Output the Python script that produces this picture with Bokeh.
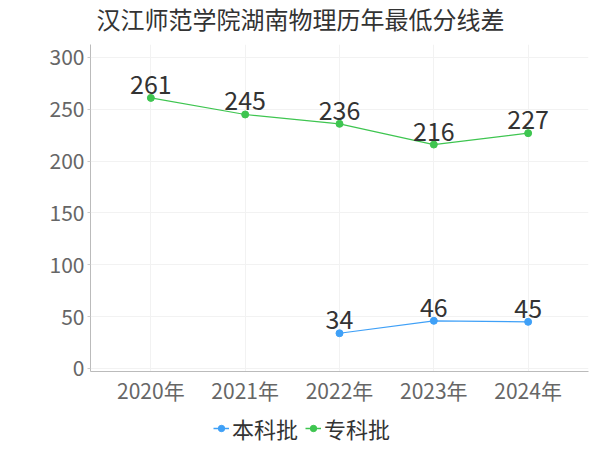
from bokeh.plotting import figure
from bokeh.layouts import column
from bokeh.models import FactorRange, Range1d, ColumnDataSource, Legend, LegendItem, FixedTicker, Label
from bokeh.core.properties import value
from bokeh.embed import file_html
from bokeh.resources import INLINE

title = "汉江师范学院湖南物理历年最低分线差"
years = ["2020年", "2021年", "2022年", "2023年", "2024年"]
ben_years = ["2022年", "2023年", "2024年"]
ben_vals = [34, 46, 45]
zhuan_years = ["2020年", "2021年", "2022年", "2023年", "2024年"]
zhuan_vals = [261, 245, 236, 216, 227]
y_ticks = [0, 50, 100, 150, 200, 250, 300]
series_names = ["本科批", "专科批"]

FONT = "Noto Sans CJK SC"
BLUE = "#3fa0f7"
GREEN = "#3ec550"

W = 592

# header strip holding the title
hd = figure(width=W, height=40, output_backend="svg", toolbar_location=None, title=None,
            min_border_left=90, min_border_right=4, min_border_top=0, min_border_bottom=0,
            x_range=Range1d(0, 498), y_range=Range1d(0, 40))
hd.axis.visible = False
hd.grid.visible = False
hd.outline_line_color = None
hd.add_layout(Label(x=6, y=22, text=title, text_font=FONT, text_font_size="24px",
                    text_color="#333333", text_baseline="middle", text_align="left"))

p = figure(width=W, height=367, title=None,
           x_range=FactorRange(factors=years, range_padding=0.14, range_padding_units="absolute"),
           y_range=Range1d(-2.9, 312.5),
           output_backend="svg", toolbar_location=None,
           min_border_left=90, min_border_right=4, min_border_top=4, min_border_bottom=35)
p.outline_line_color = None
p.background_fill_color = "white"

for g in (p.xgrid, p.ygrid):
    g.grid_line_color = "#f2f2f2"
    g.grid_line_width = 1
p.yaxis.ticker = FixedTicker(ticks=y_ticks)

for ax in (p.xaxis, p.yaxis):
    ax.axis_line_color = "#bbbbbb"
    ax.major_label_text_font = FONT
    ax.major_label_text_color = "#666666"
    ax.major_label_text_font_size = "21px"
    ax.minor_tick_line_color = None
p.yaxis.major_tick_line_color = "#cccccc"
p.yaxis.major_tick_out = 3
p.yaxis.major_tick_in = 0
p.yaxis.major_label_standoff = 3
p.xaxis.major_tick_line_color = None
p.xaxis.major_label_standoff = -3

ben = ColumnDataSource(dict(x=ben_years, y=ben_vals, t=[str(v) for v in ben_vals]))
zhuan = ColumnDataSource(dict(x=zhuan_years, y=zhuan_vals, t=[str(v) for v in zhuan_vals]))

p.line("x", "y", source=ben, line_color=BLUE, line_width=1.2)
p.scatter("x", "y", source=ben, size=7, fill_color=BLUE, line_color=BLUE)
p.line("x", "y", source=zhuan, line_color=GREEN, line_width=1.2)
p.scatter("x", "y", source=zhuan, size=7, fill_color=GREEN, line_color=GREEN)

for src in (ben, zhuan):
    p.text("x", "y", text="t", source=src, text_font=value(FONT), text_font_size="25px",
           text_color="#333333", text_align="center", text_baseline="bottom", y_offset=-4)

# legend strip below the chart (its renderers reuse the series, out of its view)
lg = figure(width=W, height=39, output_backend="svg", toolbar_location=None, title=None,
            min_border_left=90, min_border_right=4, min_border_top=0, min_border_bottom=0,
            x_range=p.x_range, y_range=Range1d(1000, 1001))
lg.axis.visible = False
lg.grid.visible = False
lg.outline_line_color = None
items = []
for name, src, col in zip(series_names, [ben, zhuan], [BLUE, GREEN]):
    r1 = lg.line("x", "y", source=src, line_color=col, line_width=1.5)
    r2 = lg.scatter("x", "y", source=src, size=7, fill_color=col, line_color=col)
    items.append(LegendItem(label=name, renderers=[r1, r2]))
legend = Legend(items=items, orientation="horizontal", location=(123, 2),
                label_text_font=FONT, label_text_font_size="22px", label_text_color="#333333",
                glyph_width=16, glyph_height=16, label_standoff=3, spacing=7,
                padding=0, margin=0, border_line_color=None, background_fill_alpha=0)
lg.add_layout(legend, "center")

open("out.html", "w").write(file_html(column(hd, p, lg, spacing=0), INLINE))
